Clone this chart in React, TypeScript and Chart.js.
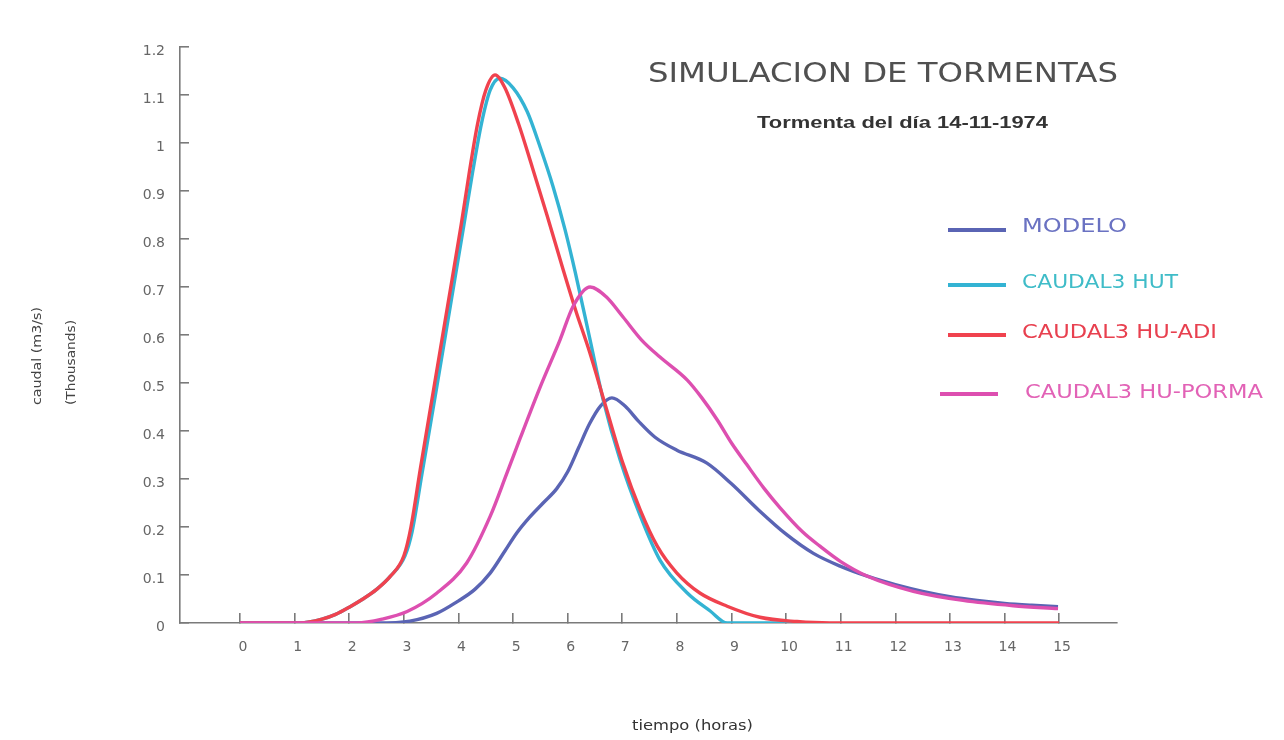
import React, { useEffect, useRef } from 'react';
import { Chart, registerables } from 'chart.js';

Chart.register(...registerables);

const hourTicks = [0, 1, 2, 3, 4, 5, 6, 7, 8, 9, 10, 11, 12, 13, 14, 15];
const hourTickLabels = ['0', '1', '2', '3', '4', '5', '6', '7', '8', '9', '10', '11', '12', '13', '14', '15'];
const flowTicks = [0, 0.1, 0.2, 0.3, 0.4, 0.5, 0.6, 0.7, 0.8, 0.9, 1.0, 1.1, 1.2];
const flowTickLabels = ['0', '0.1', '0.2', '0.3', '0.4', '0.5', '0.6', '0.7', '0.8', '0.9', '1', '1.1', '1.2'];

const seriesNames = ['MODELO', 'CAUDAL3 HUT', 'CAUDAL3 HU-ADI', 'CAUDAL3 HU-PORMA'];

const modeloHours = [0, 2.5, 3.11, 3.6, 3.97, 4.3, 4.58, 4.85, 5.07, 5.3, 5.55, 5.8, 6.0, 6.2, 6.4, 6.6, 6.81, 7.05, 7.3, 7.6, 8.0, 8.55, 9.0, 9.5, 10.0, 10.5, 11.0, 11.5, 12.0, 12.5, 13.0, 13.5, 14.0, 14.5, 14.98];
const modeloFlow = [0, 0, 0.004, 0.02, 0.044, 0.07, 0.104, 0.15, 0.188, 0.22, 0.25, 0.28, 0.315, 0.365, 0.415, 0.452, 0.469, 0.452, 0.42, 0.387, 0.36, 0.333, 0.29, 0.235, 0.185, 0.145, 0.118, 0.097, 0.08, 0.066, 0.055, 0.047, 0.041, 0.037, 0.034];

const hutHours = [0, 1.1, 1.5, 1.75, 2.0, 2.25, 2.5, 2.75, 3.02, 3.15, 3.33, 3.6, 3.85, 4.1, 4.26, 4.42, 4.58, 4.76, 5.0, 5.26, 5.5, 5.73, 5.95, 6.14, 6.4, 6.65, 6.96, 7.33, 7.69, 8.19, 8.61, 8.92, 10.5];
const hutFlow = [0, 0, 0.008, 0.018, 0.033, 0.05, 0.07, 0.097, 0.14, 0.19, 0.31, 0.49, 0.66, 0.83, 0.94, 1.04, 1.11, 1.135, 1.115, 1.065, 0.99, 0.91, 0.82, 0.73, 0.595, 0.465, 0.34, 0.223, 0.131, 0.0625, 0.025, 0, 0];

const adiHours = [0, 1.1, 1.5, 1.75, 2.0, 2.25, 2.5, 2.75, 3.0, 3.13, 3.3, 3.55, 3.8, 4.05, 4.2, 4.35, 4.5, 4.67, 4.85, 5.1, 5.35, 5.62, 5.92, 6.15, 6.4, 6.7, 7.01, 7.33, 7.64, 8.0, 8.42, 8.92, 9.52, 10.2, 10.8, 15];
const adiFlow = [0, 0, 0.008, 0.018, 0.033, 0.05, 0.07, 0.097, 0.14, 0.2, 0.32, 0.49, 0.66, 0.83, 0.94, 1.04, 1.11, 1.142, 1.115, 1.04, 0.95, 0.85, 0.735, 0.65, 0.565, 0.45, 0.333, 0.235, 0.16, 0.104, 0.0625, 0.035, 0.012, 0.003, 0, 0];

const pormaHours = [0, 2.14, 2.6, 3.06, 3.6, 4.15, 4.58, 4.88, 5.13, 5.49, 5.86, 6.1, 6.41, 6.7, 7.01, 7.35, 7.69, 8.19, 8.45, 8.74, 9.0, 9.28, 9.6, 9.89, 10.3, 10.62, 11.0, 11.48, 12.33, 13.24, 14.16, 14.98];
const pormaFlow = [0, 0, 0.008, 0.024, 0.062, 0.125, 0.222, 0.31, 0.385, 0.49, 0.59, 0.66, 0.7, 0.68, 0.638, 0.59, 0.554, 0.506, 0.47, 0.423, 0.375, 0.33, 0.28, 0.24, 0.19, 0.16, 0.128, 0.098, 0.066, 0.047, 0.036, 0.03];

const lineColors = ['#5a64b4', '#33b3d3', '#f0424e', '#dd4fb0'];
const textColors = ['#6a72c2', '#3fbcc8', '#e8404f', '#e262b6'];

const toPoints = (xs: number[], ys: number[]) => xs.map((x, i) => ({ x, y: ys[i] }));

function drawStretched(
  ctx: CanvasRenderingContext2D,
  text: string,
  x: number,
  y: number,
  font: string,
  color: string,
  width: number,
  rotate = false,
  baseline: CanvasTextBaseline = 'alphabetic'
) {
  ctx.save();
  ctx.font = font;
  ctx.fillStyle = color;
  ctx.textAlign = 'left';
  ctx.textBaseline = baseline;
  const w = ctx.measureText(text).width;
  const sx = width / w;
  ctx.translate(x, y);
  if (rotate) ctx.rotate(-Math.PI / 2);
  ctx.scale(sx, 1);
  ctx.fillText(text, 0, 0);
  ctx.restore();
}

const textPlugin = {
  id: 'textPlugin',
  beforeDraw(chart: any) {
    const ctx = chart.ctx;
    ctx.save();
    ctx.fillStyle = '#ffffff';
    ctx.fillRect(0, 0, chart.width, chart.height);
    ctx.restore();
  },
  afterDraw(chart: any) {
    const ctx: CanvasRenderingContext2D = chart.ctx;
    drawStretched(ctx, 'SIMULACION DE TORMENTAS', 648, 82, '500 27px "DejaVu Sans"', '#505050', 470);
    drawStretched(ctx, 'Tormenta del día 14-11-1974', 757, 128, 'bold 17px "Liberation Sans"', '#333333', 291);

    const legendRows = [
      { lx1: 948, lx2: 1006, ly: 230, tx: 1022, ty: 232, tw: 105 },
      { lx1: 948, lx2: 1006, ly: 285, tx: 1022, ty: 288, tw: 156 },
      { lx1: 948, lx2: 1006, ly: 335, tx: 1022, ty: 338, tw: 195 },
      { lx1: 940, lx2: 998, ly: 394, tx: 1025, ty: 398, tw: 238 },
    ];
    legendRows.forEach((r, i) => {
      ctx.save();
      ctx.strokeStyle = lineColors[i];
      ctx.lineWidth = 4;
      ctx.beginPath();
      ctx.moveTo(r.lx1, r.ly);
      ctx.lineTo(r.lx2, r.ly);
      ctx.stroke();
      ctx.restore();
      drawStretched(ctx, seriesNames[i], r.tx, r.ty, '19px "DejaVu Sans"', textColors[i], r.tw);
    });

    drawStretched(ctx, 'caudal (m3/s)', 38, 405, '12px "DejaVu Sans"', '#444444', 98, true, 'middle');
    drawStretched(ctx, '(Thousands)', 72, 405, '12px "DejaVu Sans"', '#444444', 85, true, 'middle');
    drawStretched(ctx, 'tiempo (horas)', 632, 726, '14px "DejaVu Sans"', '#333333', 121, false, 'middle');
  },
};

export default function App() {
  const canvasRef = useRef<HTMLCanvasElement | null>(null);

  useEffect(() => {
    document.body.style.margin = '0';
    const canvas = canvasRef.current;
    if (!canvas) return;
    const axisColor = '#7a7a7a';
    const chart = new Chart(canvas, {
      type: 'line',
      data: {
        datasets: [
          {
            label: seriesNames[3],
            data: toPoints(pormaHours, pormaFlow),
            borderColor: lineColors[3],
            order: 0,
          },
          {
            label: seriesNames[2],
            data: toPoints(adiHours, adiFlow),
            borderColor: lineColors[2],
            order: 1,
          },
          {
            label: seriesNames[1],
            data: toPoints(hutHours, hutFlow),
            borderColor: lineColors[1],
            order: 2,
          },
          {
            label: seriesNames[0],
            data: toPoints(modeloHours, modeloFlow),
            borderColor: lineColors[0],
            order: 3,
          },
        ].map((d) => ({
          ...d,
          borderWidth: 3.4,
          pointRadius: 0,
          fill: false,
          cubicInterpolationMode: 'monotone' as const,
        })),
      },
      options: {
        responsive: false,
        animation: false,
        devicePixelRatio: 1,
        layout: { padding: { left: 0, top: 47, right: 167, bottom: 0 } },
        plugins: {
          legend: { display: false },
          title: { display: false },
          tooltip: { enabled: false },
        },
        scales: {
          x: {
            type: 'linear',
            min: -1.1,
            max: 16.06,
            afterBuildTicks: (scale: any) => {
              scale.ticks = hourTicks.map((v) => ({ value: v }));
            },
            afterFit: (scale: any) => {
              scale.height = 117;
            },
            ticks: {
              autoSkip: false,
              maxRotation: 0,
              padding: 26,
              labelOffset: 3,
              color: '#666666',
              font: { family: 'DejaVu Sans', size: 14 },
              callback: (_v: any, i: number) => hourTickLabels[i],
            },
            grid: {
              drawOnChartArea: false,
              drawTicks: true,
              tickLength: -10,
              color: axisColor,
              lineWidth: 1.6,
            },
            border: { display: true, color: axisColor, width: 1.6 },
          },
          y: {
            type: 'linear',
            min: 0,
            max: 1.2,
            afterBuildTicks: (scale: any) => {
              scale.ticks = flowTicks.map((v) => ({ value: v }));
            },
            afterFit: (scale: any) => {
              scale.width = 180;
            },
            ticks: {
              autoSkip: false,
              padding: 24,
              labelOffset: 4,
              color: '#666666',
              font: { family: 'DejaVu Sans', size: 14 },
              callback: (_v: any, i: number) => flowTickLabels[i],
            },
            grid: {
              drawOnChartArea: false,
              drawTicks: true,
              tickLength: -9,
              color: axisColor,
              lineWidth: 1.6,
            },
            border: { display: true, color: axisColor, width: 1.6 },
          },
        },
      },
      plugins: [textPlugin],
    });
    return () => chart.destroy();
  }, []);

  return (
    <div style={{ position: 'fixed', left: 0, top: 0, width: 1284, height: 740, background: '#fff' }}>
      <canvas ref={canvasRef} width={1284} height={740} style={{ width: 1284, height: 740, display: 'block' }} />
    </div>
  );
}
